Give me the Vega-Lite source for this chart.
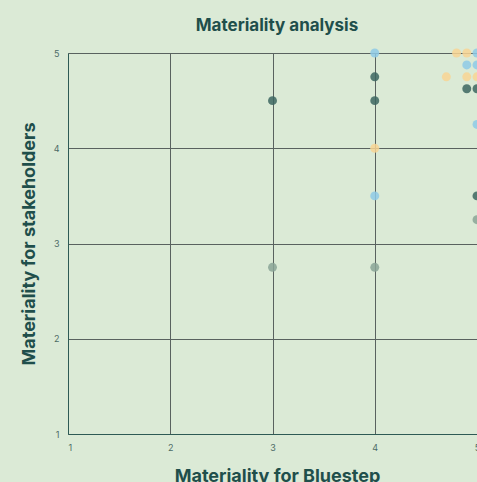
{
  "$schema": "https://vega.github.io/schema/vega-lite/v6.json",
  "autosize": {"type": "none"},
  "padding": {"left": 68, "top": 53, "right": 0, "bottom": 48},
  "width": 418,
  "height": 381,
  "background": "#dbead6",
  "title": {
    "text": "Materiality analysis",
    "font": "Inter",
    "fontSize": 17,
    "fontWeight": "bold",
    "color": "#1f4f4b",
    "anchor": "middle",
    "offset": 14
  },
  "config": {
    "view": {"stroke": null},
    "axis": {
      "grid": true,
      "gridColor": "#59625f",
      "gridWidth": 1,
      "gridOpacity": 1,
      "ticks": false,
      "domainColor": "#2e5a55",
      "domainWidth": 1,
      "labelFont": "Inter",
      "labelFontSize": 9,
      "labelColor": "#4d6b66",
      "labelPadding": 9,
      "titleFont": "Inter",
      "titleFontSize": 18,
      "titleFontWeight": "bold",
      "titleColor": "#1f4f4b"
    }
  },
  "data": {
    "values": [
      {"x": 5, "y": 5, "category": "A"},
      {"x": 4.8, "y": 5, "category": "B"},
      {"x": 4.9, "y": 5, "category": "B"},
      {"x": 4.9, "y": 4.875, "category": "A"},
      {"x": 5, "y": 4.875, "category": "A"},
      {"x": 4.7, "y": 4.75, "category": "B"},
      {"x": 4.9, "y": 4.75, "category": "B"},
      {"x": 5, "y": 4.75, "category": "B"},
      {"x": 4.9, "y": 4.625, "category": "C"},
      {"x": 5, "y": 4.625, "category": "C"},
      {"x": 5, "y": 4.25, "category": "A"},
      {"x": 5, "y": 3.5, "category": "C"},
      {"x": 5, "y": 3.25, "category": "D"},
      {"x": 4, "y": 5, "category": "A"},
      {"x": 4, "y": 4.75, "category": "C"},
      {"x": 4, "y": 4.5, "category": "C"},
      {"x": 4, "y": 4, "category": "B"},
      {"x": 4, "y": 3.5, "category": "A"},
      {"x": 4, "y": 2.75, "category": "D"},
      {"x": 3, "y": 4.5, "category": "C"},
      {"x": 3, "y": 2.75, "category": "D"}
    ]
  },
  "mark": {"type": "circle", "size": 80, "opacity": 0.85},
  "encoding": {
    "x": {
      "field": "x",
      "type": "quantitative",
      "scale": {"domain": [1, 5.088], "nice": false, "zero": false},
      "axis": {"values": [1, 2, 3, 4, 5], "title": "Materiality for Bluestep", "titlePadding": 15}
    },
    "y": {
      "field": "y",
      "type": "quantitative",
      "scale": {"domain": [1, 5], "nice": false, "zero": false},
      "axis": {"values": [1, 2, 3, 4, 5], "title": "Materiality for stakeholders", "titlePadding": 15}
    },
    "color": {
      "field": "category",
      "type": "nominal",
      "scale": {"domain": ["A", "B", "C", "D"], "range": ["#8ecae6", "#f8d594", "#3c6660", "#8aa597"]},
      "legend": null
    }
  }
}
